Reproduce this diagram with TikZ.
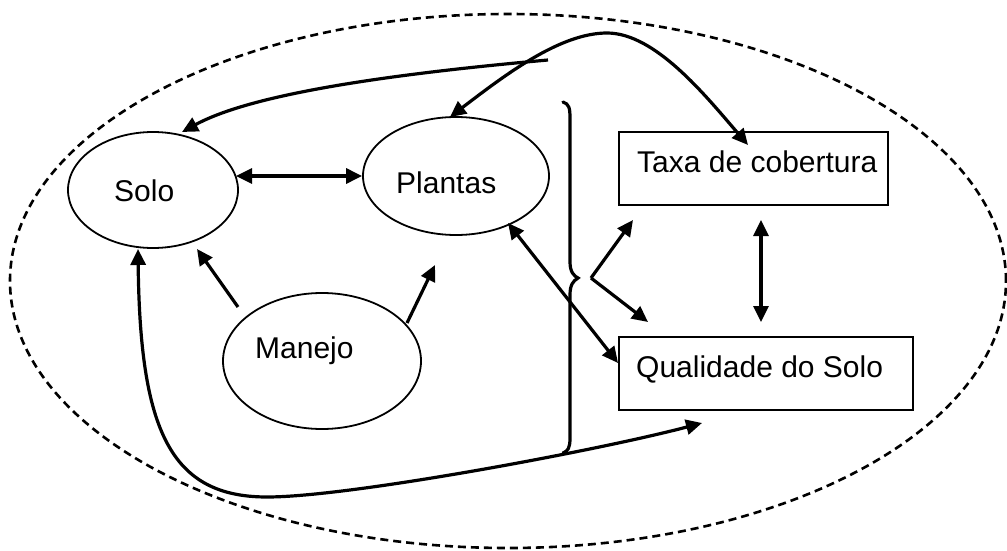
\documentclass[tikz,border=0pt]{standalone}
\usepackage{fontspec}
\setmainfont{Liberation Sans}
\usetikzlibrary{shapes.geometric,arrows.meta}
\tikzset{
  ell/.style={draw, ellipse, line width=1.8pt, inner sep=0pt},
  boxnode/.style={draw, rectangle, line width=2pt, inner sep=0pt},
  lbl/.style={anchor=base west, inner sep=0pt, font=\fontsize{30}{36}\selectfont},
  arr/.style={line width=3.2pt, -{Triangle[length=16pt,width=15pt]}},
  darr/.style={line width=3.2pt, {Triangle[length=16pt,width=15pt]}-{Triangle[length=16pt,width=15pt]}},
  bracestyle/.style={line width=3.2pt, line cap=round},
  outerstyle/.style={draw, ellipse, line width=2.6pt, dash pattern=on 8pt off 5pt, inner sep=0pt}
}
\begin{document}
\begin{tikzpicture}[x=1pt,y=-1pt]
\useasboundingbox (0,0) rectangle (1007,551);
% outer dashed ellipse
\node[outerstyle, minimum width=996pt, minimum height=534pt] (outer) at (508,281) {};
% nodes
\node[ell, minimum width=170pt, minimum height=116pt] (solo) at (153,190) {};
\node[lbl] (soloT) at (114,201) {Solo};
\node[ell, minimum width=186pt, minimum height=118pt] (plantas) at (456,176) {};
\node[lbl] (plantasT) at (396,193) {Plantas};
\node[ell, minimum width=198pt, minimum height=136pt] (manejo) at (322,361) {};
\node[lbl] (manejoT) at (255,358) {Manejo};
\node[boxnode, minimum width=269pt, minimum height=73pt] (taxa) at (753.5,168.5) {};
\node[lbl] (taxaT) at (637,172) {Taxa de cobertura};
\node[boxnode, minimum width=294pt, minimum height=73pt] (qual) at (766,373.5) {};
\node[lbl] (qualT) at (636,377) {Qualidade do Solo};
% helper coordinates
\coordinate (soloR) at (236,176);
\coordinate (soloTop) at (182,132);
\coordinate (soloBot) at (138,249);
\coordinate (soloBR) at (197,249);
\coordinate (manA) at (238,307);
\coordinate (manB) at (407,323);
\coordinate (plaB) at (435,265);
\coordinate (plaTop) at (450,117);
\coordinate (plaBR) at (508,223);
\coordinate (qualL) at (618,363);
\coordinate (qualBL) at (702,423);
\coordinate (taxaTop) at (748,145);
\coordinate (freeA) at (548,60);
\coordinate (peak) at (607,33);
\coordinate (btip) at (591,278);
\coordinate (taxaBL) at (633,220);
\coordinate (qualTL) at (648,322);
\coordinate (taxaB) at (761,220);
\coordinate (qualT) at (761,322);
\coordinate (bend) at (267,497);
% connectors
\draw[darr] (soloR) -- (plantas.west);
\draw[arr] (manA) -- (soloBR);
\draw[arr] (manB) -- (plaB);
\draw[darr] (plaBR) -- (qualL);
\draw[arr] (freeA) .. controls (380,75) and (250,95) .. (soloTop);
\draw[darr] (plaTop) .. controls (505,75) and (560,33) .. (peak) .. controls (655,33) and (705,95) .. (taxaTop);
\draw[darr] (soloBot) .. controls (140,430) and (170,497) .. (bend) .. controls (350,497) and (600,450) .. (qualBL);
\draw[arr] (btip) -- (taxaBL);
\draw[arr] (btip) -- (qualTL);
\draw[darr] (taxaB) -- (qualT);
% brace
\draw[bracestyle] (563,102) .. controls (569,104) and (570,108) .. (570,118) -- (570,262) .. controls (570,272) and (574,276) .. (578,278) .. controls (573,281) and (570,285) .. (570,295) -- (570,438) .. controls (570,448) and (568,451) .. (563,453);
\end{tikzpicture}
\end{document}
